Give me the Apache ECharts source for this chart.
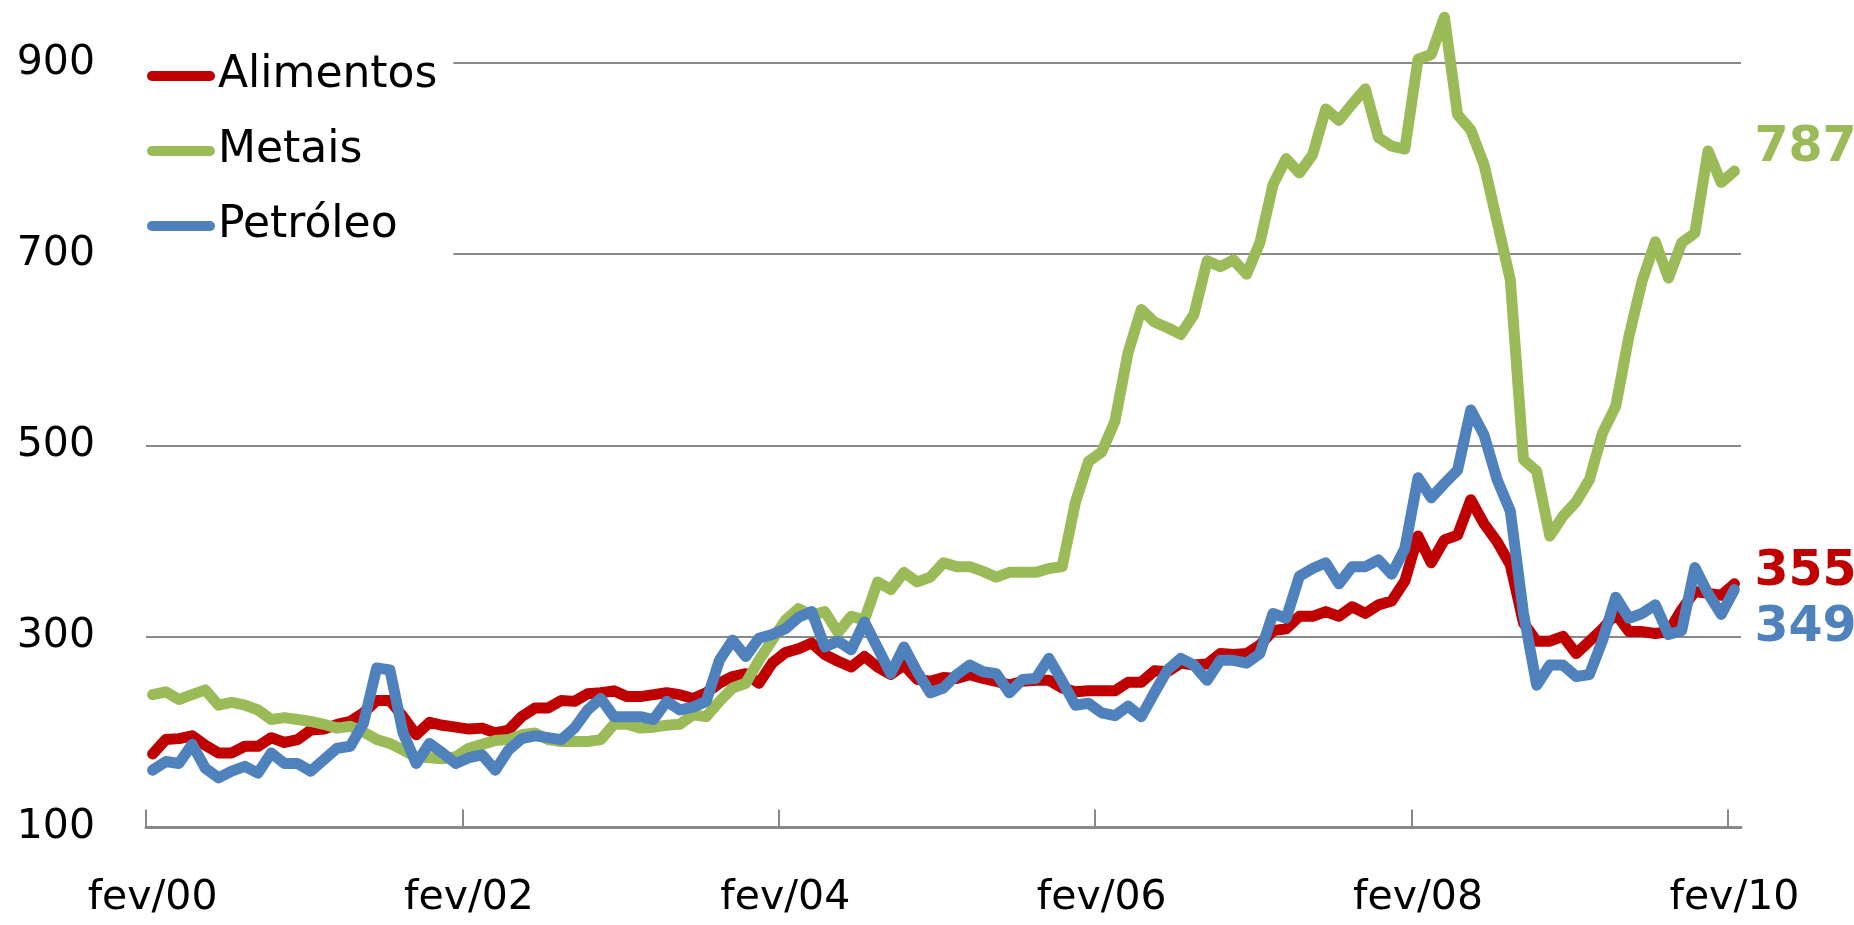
<!DOCTYPE html>
<html>
<head>
<meta charset="utf-8">
<title>Alimentos, Metais, Petróleo</title>
<script src="https://cdn.jsdelivr.net/npm/echarts@6/dist/echarts.min.js"></script>
<style>
    html, body { margin: 0; padding: 0; background: #fff; }
    #chart { width: 1854px; height: 925px; }
</style>
</head>
<body>
<div id="chart"></div>
<script>
// meses (fev/00 .. fev/10)
const meses = ['jan', 'fev', 'mar', 'abr', 'mai', 'jun', 'jul', 'ago', 'set', 'out', 'nov', 'dez'];
const anos = ['00', '01', '02', '03', '04', '05', '06', '07', '08', '09', '10'];

const alimentos = [
    177, 192, 193, 196, 186, 178, 178, 185, 185, 194, 189, 192,
    202, 203, 208, 211, 220, 233, 233, 216, 197, 210, 207, 205,
    203, 204, 199, 202, 216, 225, 225, 233, 232, 240, 241, 243,
    237, 237, 239, 241, 239, 235, 241, 251, 258, 261, 251, 272,
    283, 287, 293, 281, 274, 268, 279, 268, 260, 270, 255, 253,
    257, 256, 260, 256, 253, 249, 253, 254, 254, 246, 242, 243,
    243, 243, 252, 252, 264, 263, 272, 270, 271, 282, 281, 282,
    291, 306, 308, 321, 321, 326, 321, 331, 324, 333, 337, 358,
    405, 377, 401, 406, 443, 418, 399, 375, 314, 295, 295, 300,
    282, 295, 308, 324, 305, 305, 303, 305, 328, 347, 345, 343,
    355
];
const metais = [
    239, 242, 234, 239, 244, 228, 231, 228, 223, 213, 215, 213,
    211, 208, 204, 206, 200, 192, 188, 181, 174, 173, 172, 174,
    183, 187, 191, 192, 197, 199, 192, 190, 190, 190, 192, 208,
    208, 204, 205, 207, 208, 218, 216, 232, 246, 251, 275, 296,
    317, 329, 322, 326, 304, 321, 317, 357, 349, 367, 357, 362,
    377, 373, 373, 368, 362, 367, 367, 367, 371, 373, 440, 483,
    493, 525, 597, 642, 629, 623, 616, 637, 693, 687, 694, 679,
    712, 773, 800, 785, 804, 852, 840, 857, 873, 822, 813, 810,
    904, 909, 948, 846, 830, 794, 734, 673, 485, 473, 405, 426,
    441, 464, 513, 541, 614, 672, 713, 675, 712, 722, 808, 775,
    787
];
const petroleo = [
    160, 169, 167, 187, 162, 152, 159, 164, 157, 178, 167, 167,
    159, 171, 183, 185, 209, 267, 265, 199, 167, 188, 178, 167,
    173, 176, 160, 181, 193, 196, 194, 192, 204, 223, 235, 216,
    216, 216, 213, 232, 223, 226, 232, 275, 296, 279, 298, 302,
    308, 320, 326, 289, 295, 286, 315, 288, 261, 289, 263, 241,
    246, 260, 270, 263, 261, 241, 255, 256, 277, 253, 228, 230,
    220, 217, 227, 216, 241, 265, 277, 270, 254, 275, 275, 272,
    282, 324, 319, 363, 371, 377, 355, 373, 373, 380, 365, 392,
    466, 445, 460, 474, 537, 511, 464, 431, 324, 249, 270, 270,
    258, 260, 296, 341, 319, 324, 333, 302, 306, 372, 345, 323,
    349
];

// rótulos mensais a partir de fev/00
const categorias = [];
for (let k = 0; k < alimentos.length; k++) {
    const m = k + 1;
    categorias.push(meses[m % 12] + '/' + anos[Math.floor(m / 12)]);
}
// limites entre meses, só para desenhar a linha do eixo e as marcas (a cada 24 meses)
const limites = [];
for (let k = 0; k <= categorias.length; k++) limites.push(String(k));

const fonte = 'DejaVu Sans';
const cinza = '#898989';
const yMin = 100, yMax = 966, yStep = 200;

function serie(nome, dados, cor, offsetY) {
    return {
        name: nome,
        type: 'line',
        data: dados,
        symbol: 'none',
        color: cor,
        lineStyle: { width: 11, color: cor, join: 'round', cap: 'round' },
        endLabel: {
            show: true,
            formatter: '{c}',
            color: cor,
            fontFamily: fonte,
            fontSize: 49,
            fontWeight: 'bold',
            distance: 20,
            offset: [0, offsetY]
        },
        animation: false
    };
}

const chart = echarts.init(document.getElementById('chart'));
chart.setOption({
    backgroundColor: '#fff',
    grid: { left: 146, right: 113, top: 0, bottom: 97.5 },
    legend: {
        orient: 'vertical',
        left: 142,
        top: 41,
        padding: [10, 16, 10, 5],
        backgroundColor: '#fff',
        itemWidth: 68,
        itemHeight: 10,
        itemGap: 25,
        icon: 'path://M5,0 L63,0 A5,5 0 0 1 63,10 L5,10 A5,5 0 0 1 5,0 Z',
        textStyle: { fontFamily: fonte, fontSize: 44, color: '#000', lineHeight: 50, padding: [0, 0, 0, -2] },
        data: ['Alimentos', 'Metais', 'Petróleo']
    },
    xAxis: [{
        type: 'category',
        data: categorias,
        boundaryGap: true,
        axisLine: { show: false },
        axisTick: { show: false },
        axisLabel: { interval: 23, margin: 50, fontFamily: fonte, fontSize: 41, color: '#000' }
    }, {
        type: 'category',
        data: limites,
        position: 'bottom',
        boundaryGap: false,
        z: 5,
        axisLine: { lineStyle: { color: cinza, width: 3 } },
        axisTick: { show: true, inside: true, length: 18, interval: 23, lineStyle: { color: cinza, width: 2 } },
        axisLabel: { show: false }
    }],
    yAxis: {
        type: 'value',
        min: yMin,
        max: yMax,
        interval: yStep,
        axisLine: { show: false },
        axisTick: { show: false },
        // a última linha (topo do gráfico, 966) fica invisível
        splitLine: { lineStyle: { color: [cinza, cinza, cinza, cinza, cinza, 'rgba(0,0,0,0)'], width: 2 } },
        axisLabel: {
            margin: 51,
            fontFamily: fonte,
            fontSize: 41,
            color: '#000',
            formatter: v => (v > 900 ? '' : String(v))
        }
    },
    series: [
        serie('Alimentos', alimentos, '#C00000', -12),
        serie('Metais', metais, '#9BBB59', -23),
        serie('Petróleo', petroleo, '#4F81BD', 39)
    ]
});
</script>
</body>
</html>
